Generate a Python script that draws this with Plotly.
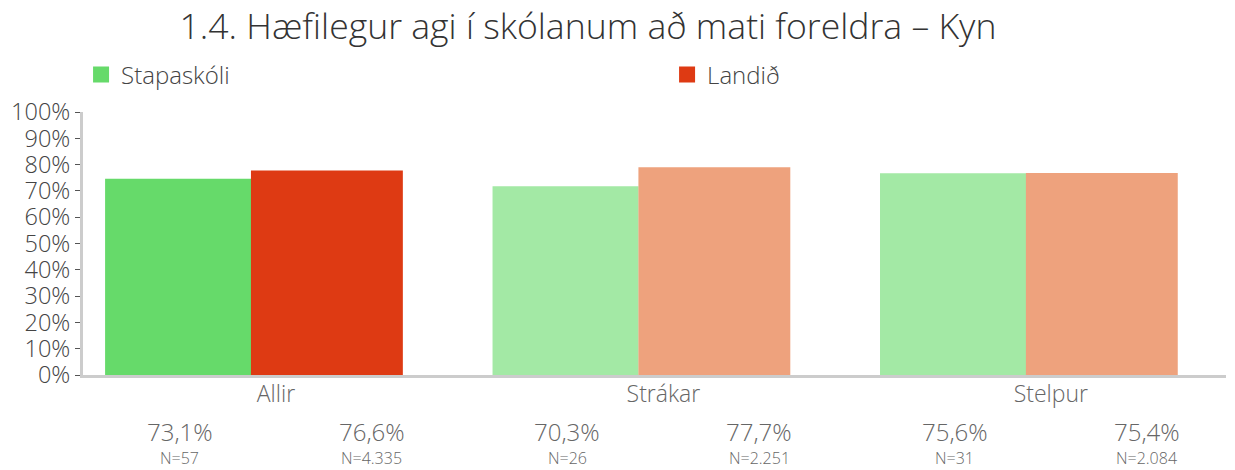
import plotly.graph_objects as go

categories = ["Allir", "Strákar", "Stelpur"]
school_name = "Stapaskóli"
country_name = "Landið"
# bar heights as drawn in the picture
school_values = [74.6, 71.8, 76.7]
country_values = [77.8, 79.0, 76.8]
# printed labels under the bars
school_labels = ["73,1%", "70,3%", "75,6%"]
country_labels = ["76,6%", "77,7%", "75,4%"]
school_n = ["N=57", "N=26", "N=31"]
country_n = ["N=4.335", "N=2.251", "N=2.084"]
y_ticks = [0, 10, 20, 30, 40, 50, 60, 70, 80, 90, 100]
title_text = "1.4. Hæfilegur agi í skólanum að mati foreldra – Kyn"

school_colors = ["#66DA6A", "#A3E9A5", "#A3E9A5"]
country_colors = ["#DE3A13", "#EEA27D", "#EEA27D"]

FONT = "Open Sans"
W = 300
fig = go.Figure()
fig.add_trace(go.Bar(x=categories, y=school_values, offset=-0.441, width=0.377,
                     marker=dict(color=school_colors, line=dict(width=0)),
                     name=school_name, showlegend=False))
fig.add_trace(go.Bar(x=categories, y=country_values, offset=-0.0645, width=0.392,
                     marker=dict(color=country_colors, line=dict(width=0)),
                     name=country_name, showlegend=False))
# legend entries (scatter so they don't take bar slots)
fig.add_trace(go.Scatter(x=[None], y=[None], mode="markers", name=school_name, legend="legend",
                         marker=dict(symbol="square", size=18, color=school_colors[0])))
fig.add_trace(go.Scatter(x=[None], y=[None], mode="markers", name=country_name, legend="legend2",
                         marker=dict(symbol="square", size=18, color=country_colors[0])))

shift = 96
for i, c in enumerate(categories):
    for lab, n, s in [(school_labels[i], school_n[i], -shift), (country_labels[i], country_n[i], shift)]:
        fig.add_annotation(x=c, xref="x", y=-0.2167, yref="paper", text=lab, showarrow=False,
                           xshift=s, yanchor="middle", font=dict(family=FONT, size=24, color="#666", weight=W))
        fig.add_annotation(x=c, xref="x", y=-0.316, yref="paper", text=n, showarrow=False,
                           xshift=s, yanchor="middle", font=dict(family=FONT, size=16, color="#666", weight=W))

legend_common = dict(orientation="h", y=1 - 75/470, yref="container", yanchor="middle",
                     font=dict(family=FONT, size=24, color="#444", weight=W),
                     itemsizing="trace", bgcolor="rgba(0,0,0,0)")
fig.update_layout(
    width=1235, height=470,
    margin=dict(l=83, r=9, t=112, b=95, autoexpand=False),
    paper_bgcolor="white", plot_bgcolor="white",
    barmode="overlay",
    title=dict(text=title_text, x=588/1235, xanchor="center", y=1 - 27/470, yanchor="middle",
               font=dict(family=FONT, size=35.6, color="#333", weight=W)),
    legend=dict(x=-0.0017, xanchor="left", **legend_common),
    legend2=dict(x=0.511, xanchor="left", **legend_common),
    xaxis=dict(showline=True, linecolor="#cccccc", linewidth=3, ticks="", showgrid=False,
               range=[-0.498, 2.452], ticklabelstandoff=-4,
               tickfont=dict(family=FONT, size=23, color="#666", weight=W)),
    yaxis=dict(range=[0, 100], tickvals=y_ticks, ticktext=[f"{t}%" for t in y_ticks],
               showline=True, linecolor="#cccccc", linewidth=3, showgrid=False, zeroline=False,
               ticks="outside", ticklen=5, tickcolor="#555", tickwidth=1,
               tickfont=dict(family=FONT, size=23.5, color="#444", weight=W)),
)
fig.write_html("out.html", config={"displayModeBar": False},
               post_script="document.body.style.margin='0px';")
